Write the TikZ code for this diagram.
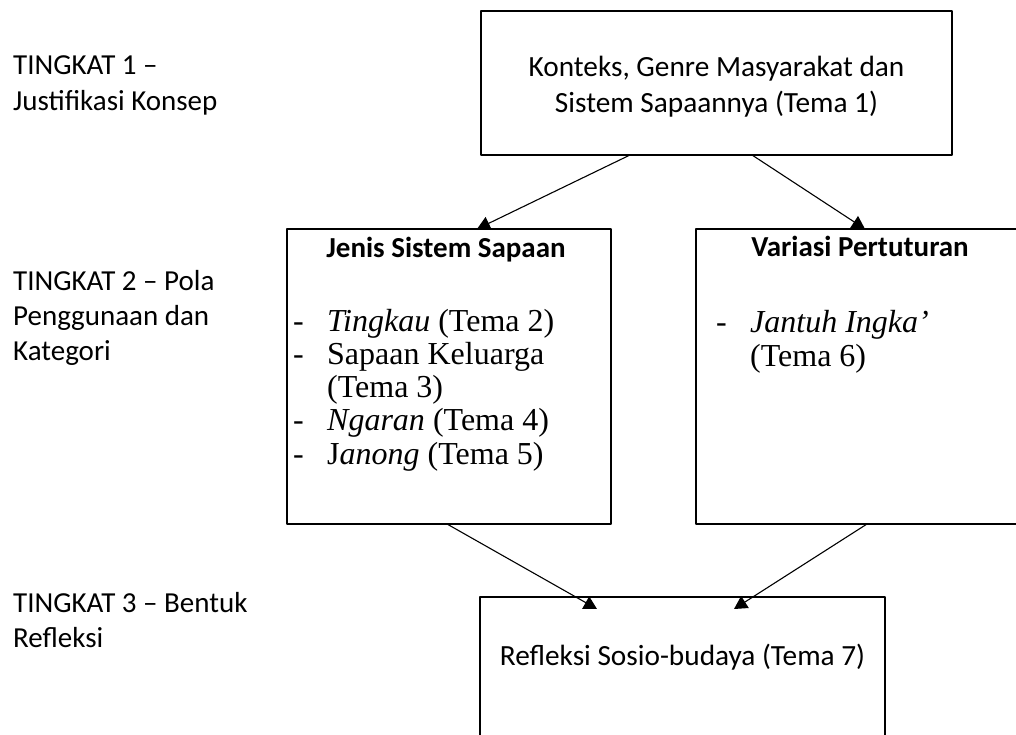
\documentclass[tikz,border=0pt]{standalone}
\usepackage{fontspec}
\setmainfont{Carlito}
\newfontfamily\timesfont{Liberation Serif}
\usetikzlibrary{arrows.meta}
\tikzset{
  box/.style={draw,line width=2.8pt,inner sep=0pt,outer sep=0pt},
  arr/.style={->,line width=1.1pt},
  level/.style={anchor=base west,align=left,inner sep=0pt,font=\fontsize{29}{35.4}\selectfont},
  txt/.style={anchor=base,align=center,inner sep=0pt,font=\fontsize{29.3}{35.4}\selectfont},
  head/.style={anchor=base,inner sep=0pt,font=\bfseries\fontsize{29}{35.4}\selectfont},
  item/.style={anchor=base west,align=left,inner sep=0pt,font=\timesfont\fontsize{32}{33.3}\selectfont}
}
\newcommand{\dashitem}{\makebox[34pt][l]{-}}
\newcommand{\hang}{\hspace*{34pt}}
\begin{document}
\begin{tikzpicture}[x=1pt,y=-1pt,>={Triangle[length=13pt,width=14pt]},line join=round]
\useasboundingbox (0,0) rectangle (1016,735);
\clip (0,0) rectangle (1016,735);
% levels (anchored at the last line)
\node[level] (lv1) at (13,110.4) {TINGKAT 1 –\\Justifikasi Konsep};
\node[level] (lv2) at (13,360.8) {TINGKAT 2 – Pola\\Penggunaan dan\\Kategori};
\node[level] (lv3) at (13,647.4) {TINGKAT 3 – Bentuk\\Refleksi};
% boxes
\node[box,minimum width=471pt,minimum height=144pt] (konteks) at (716.5,83) {};
\node[box,minimum width=324pt,minimum height=295pt] (jenis) at (449,376.5) {};
\node[box,minimum width=322pt,minimum height=295pt] (variasi) at (857,376.5) {};
\node[box,minimum width=405pt,minimum height=163pt] (refleksi) at (682.5,678.5) {};
% texts
\node[txt] (tkonteks) at (716.5,112.4) {Konteks, Genre Masyarakat dan\\Sistem Sapaannya (Tema 1)};
\node[head] (hjenis) at (446,257) {Jenis Sistem Sapaan};
\node[head] (hvariasi) at (860,256) {Variasi Pertuturan};
\node[item] (ljenis) at (293,464.2) {\dashitem\textit{Tingkau} (Tema 2)\\
  \dashitem Sapaan Keluarga\\
  \hang(Tema 3)\\
  \dashitem\textit{Ngaran} (Tema 4)\\
  \dashitem J\textit{anong} (Tema 5)};
\node[item] (lvariasi) at (716,366) {\dashitem\textit{Jantuh Ingka’}\\\hang(Tema 6)};
\node[txt] (trefleksi) at (682.5,665) {Refleksi Sosio-budaya (Tema 7)};
% arrows
\draw[arr] ([xshift=149pt]konteks.south west) -- ([xshift=190pt]jenis.north west);
\draw[arr] ([xshift=271pt]konteks.south west) -- ([xshift=169pt]variasi.north west);
\draw[arr] ([xshift=160pt]jenis.south west) -- ([xshift=117pt,yshift=-12pt]refleksi.north west);
\draw[arr] ([xshift=171pt]variasi.south west) -- ([xshift=254pt,yshift=-12pt]refleksi.north west);
\end{tikzpicture}
\end{document}
